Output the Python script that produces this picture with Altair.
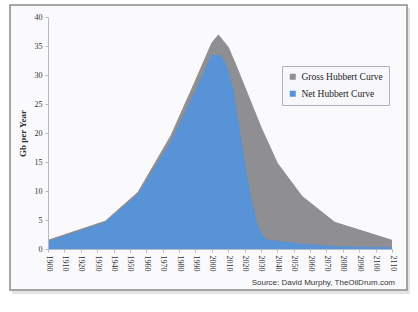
import altair as alt
import pandas as pd

gross_years = [1900, 1935, 1955, 1975, 1990, 2000, 2004, 2010, 2015, 2020, 2025, 2030, 2040, 2055, 2075, 2110]
gross_vals = [1.5, 4.8, 9.8, 19.5, 29.0, 35.5, 36.9, 34.8, 31.5, 28.0, 24.5, 21.0, 14.8, 9.1, 4.6, 1.5]

net_years = [1900, 1935, 1955, 1975, 1990, 2000, 2005, 2007, 2010, 2013, 2018, 2023, 2028, 2032, 2036, 2040, 2055, 2075, 2110]
net_vals = [1.2, 4.5, 9.3, 18.3, 27.0, 33.3, 33.4, 32.6, 30.5, 27.4, 18.3, 9.7, 3.8, 1.8, 1.4, 1.3, 0.8, 0.4, 0.2]

series_names = ["Gross Hubbert Curve", "Net Hubbert Curve"]
series_colors = ["#8e8e93", "#5793d6"]
x_ticks = list(range(1900, 2111, 10))
y_ticks = list(range(0, 41, 5))
source_text = "Source: David Murphy, TheOilDrum.com"

rows = [{"year": y, "value": v, "series": series_names[0]} for y, v in zip(gross_years, gross_vals)]
rows += [{"year": y, "value": v, "series": series_names[1]} for y, v in zip(net_years, net_vals)]
df = pd.DataFrame(rows)
gross_df = df[df.series == series_names[0]]
net_df = df[df.series == series_names[1]]

W, H = 344, 232

xs = alt.X("year:Q", scale=alt.Scale(domain=[1900, 2110], nice=False),
           axis=alt.Axis(values=x_ticks, labelAngle=90, labelAlign="left", labelBaseline="middle",
                         format="d", title=None, labelFont="Liberation Serif", labelFontSize=8,
                         labelColor="#333", domainColor="#b8b8c8", tickColor="#b8b8c8", tickSize=3,
                         labelPadding=3, grid=False, zindex=1))
ys = alt.Y("value:Q", scale=alt.Scale(domain=[0, 40], nice=False),
           axis=alt.Axis(values=y_ticks, title="Gb per Year", titleFont="Liberation Serif",
                         titleFontSize=9, titleFontWeight="bold", titleColor="#333", titlePadding=7,
                         labelFont="Liberation Serif", labelFontSize=8, labelColor="#333",
                         domainColor="#b8b8c8", tickColor="#b8b8c8", tickSize=3, labelPadding=3,
                         grid=False, zindex=1))
color = alt.Color("series:N", scale=alt.Scale(domain=series_names, range=series_colors),
                  legend=alt.Legend(title=None, orient="none", legendX=234, legendY=49,
                                    symbolType="square", symbolSize=30, symbolStrokeColor="#555",
                                    symbolStrokeWidth=0.5,
                                    labelFont="Liberation Serif", labelFontSize=9.5, labelColor="#222",
                                    strokeColor="#b0b0c0", padding=6, rowPadding=6,
                                    fillColor="#f8f8fc", labelLimit=200, zindex=2))

frame_df = pd.DataFrame({"k": [0]})
shadow = alt.Chart(frame_df).mark_rect(fill="#d8d8d8", opacity=0.7).encode(
    x=alt.value(-36), x2=alt.value(362), y=alt.value(-9), y2=alt.value(277))
frame = alt.Chart(frame_df).mark_rect(fill="#fafafd", stroke="#8a8a8a", strokeWidth=1.5).encode(
    x=alt.value(-38), x2=alt.value(359), y=alt.value(-12), y2=alt.value(273))

gross = alt.Chart(gross_df).mark_area(line={"color": "#5a5a5e", "strokeWidth": 1}, opacity=1).encode(
    x=xs, y=ys, color=color)
net = alt.Chart(net_df).mark_area(line={"color": "#86c4f4", "strokeWidth": 1.2}, opacity=1).encode(
    x=xs, y=ys, color=color)

source = alt.Chart(frame_df).mark_text(text=source_text, align="right", baseline="middle",
                                        font="Liberation Sans", fontSize=8, color="#333").encode(
    x=alt.value(347), y=alt.value(266))

chart = alt.layer(shadow, frame, gross, net, source).properties(
    width=W, height=H, background="#ffffff",
    padding={"left": 48, "top": 17, "right": 26, "bottom": 63},
    autosize=alt.AutoSizeParams(type="none"),
).configure_view(stroke=None)

chart.save("out.html", embed_options={"renderer": "svg", "actions": False})
